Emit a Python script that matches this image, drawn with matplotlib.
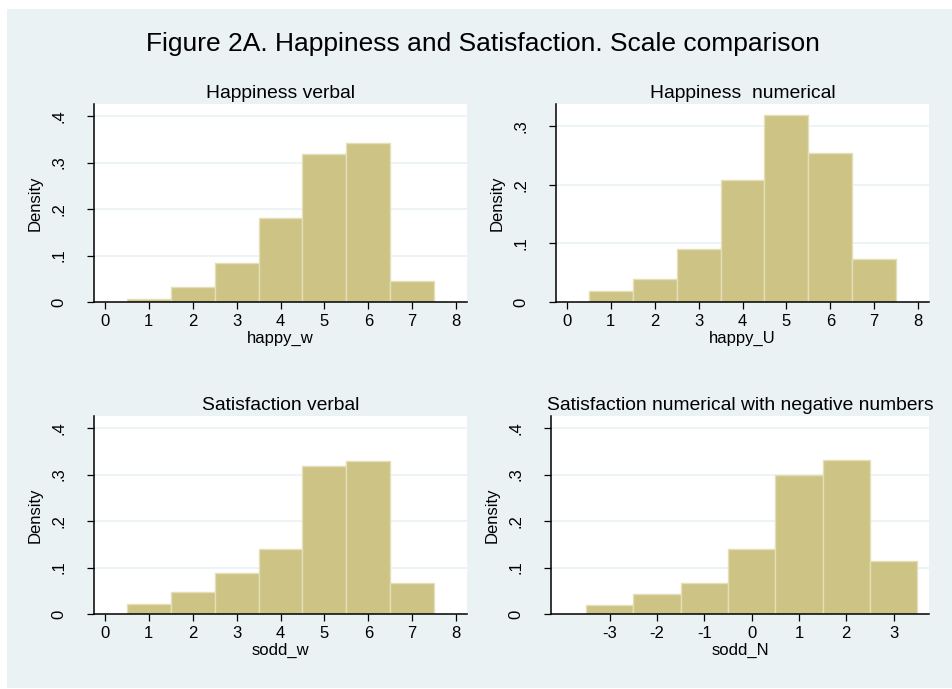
import matplotlib
matplotlib.use("Agg")
import matplotlib.pyplot as plt
from matplotlib.patches import Rectangle

plt.rcParams['font.family'] = ['Liberation Sans', 'DejaVu Sans']

# bin centres and densities
happy_w_bins = [1, 2, 3, 4, 5, 6, 7]
happy_w_dens = [0.0064, 0.0315, 0.083, 0.180, 0.318, 0.342, 0.046]

happy_U_bins = [1, 2, 3, 4, 5, 6, 7]
happy_U_dens = [0.0194, 0.0388, 0.0907, 0.2088, 0.3195, 0.2544, 0.0742]

sodd_w_bins = [1, 2, 3, 4, 5, 6, 7]
sodd_w_dens = [0.0215, 0.048, 0.0889, 0.139, 0.319, 0.329, 0.0667]

sodd_N_bins = [-3, -2, -1, 0, 1, 2, 3]
sodd_N_dens = [0.0201, 0.0423, 0.066, 0.1398, 0.298, 0.331, 0.113]

titles = ["Happiness verbal", "Happiness  numerical",
          "Satisfaction verbal", "Satisfaction numerical with negative numbers"]
xlabels = ["happy_w", "happy_U", "sodd_w", "sodd_N"]

BG = '#EAF2F3'
BAR = '#CCC385'
EDGE = '#E4DFB8'

W, H = 952, 689
fig = plt.figure(figsize=(W / 100, H / 100), dpi=100, facecolor='white')
fig.patches.append(Rectangle((7 / W, 1 / H), 1 - 7 / W, 1 - 10 / H,
                             transform=fig.transFigure, facecolor=BG,
                             edgecolor='none', zorder=-10))

# axes boxes in pixels: left, top, right, bottom
boxes = [(94, 104, 467, 302), (556, 104, 929, 302),
         (94, 416, 467, 614), (551, 416, 929, 614)]

panels = [
    (happy_w_bins, happy_w_dens, [0, .1, .2, .3, .4], 0.426, list(range(0, 9)), (-0.25, 8.25)),
    (happy_U_bins, happy_U_dens, [0, .1, .2, .3], 0.338, list(range(0, 9)), (-0.25, 8.25)),
    (sodd_w_bins, sodd_w_dens, [0, .1, .2, .3, .4], 0.426, list(range(0, 9)), (-0.25, 8.25)),
    (sodd_N_bins, sodd_N_dens, [0, .1, .2, .3, .4], 0.426, list(range(-3, 4)), (-4.24, 3.75)),
]

def fmt(v):
    if v == 0:
        return "0"
    return ("%.1f" % v).lstrip("0")

for i, (bins, dens, yt, ytop, xt, xl) in enumerate(panels):
    l, t, r, b = boxes[i]
    ax = fig.add_axes([l / W, 1 - b / H, (r - l) / W, (b - t) / H])
    ax.set_facecolor('white')
    ax.bar(bins, dens, width=1.0, color=BAR, edgecolor=EDGE, linewidth=1.0, zorder=3)
    ax.set_xlim(*xl)
    ax.set_ylim(0, ytop)
    ax.set_yticks(yt)
    ax.set_yticklabels([fmt(v) for v in yt], rotation=90, va='center')
    ax.set_xticks(xt)
    ax.set_xticklabels([str(v) for v in xt])
    for v in yt[1:]:
        ax.axhline(v, color=BG, lw=1.2, zorder=1)
    for s in ['top', 'right']:
        ax.spines[s].set_visible(False)
    for s in ['left', 'bottom']:
        ax.spines[s].set_linewidth(1.1)
        ax.spines[s].set_color('black')
        ax.spines[s].set_zorder(4)
    ax.tick_params(axis='both', length=5, width=0.9, labelsize=12, color='black')
    ax.tick_params(axis='y', pad=15)
    ax.tick_params(axis='x', pad=4)
    ax.set_title(titles[i], fontsize=13.9, pad=4)
    ax.set_xlabel(xlabels[i], fontsize=12, labelpad=1)
    ax.set_ylabel("Density", fontsize=12, labelpad=6)

fig.text(0.507, 1 - 44 / H, "Figure 2A. Happiness and Satisfaction. Scale comparison",
         ha='center', va='center', fontsize=19)

fig.savefig("out.png", dpi=100, facecolor=fig.get_facecolor())
